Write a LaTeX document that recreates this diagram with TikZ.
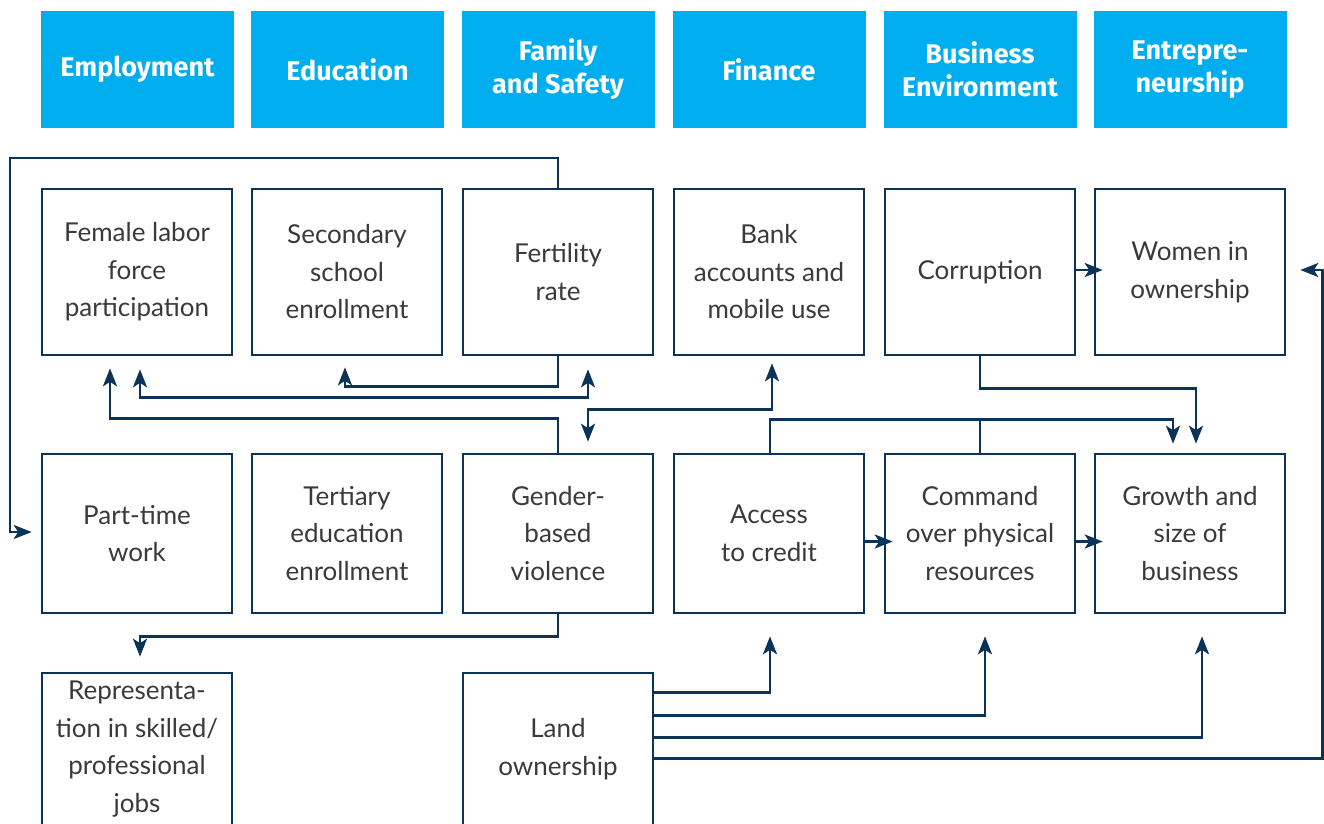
\documentclass[tikz,border=0pt]{standalone}
\usepackage{fontspec}
\setmainfont{Lato}
\newfontfamily\headfont{Fira Sans}
\usetikzlibrary{arrows.meta,calc}
\definecolor{navy}{HTML}{0B3357}
\definecolor{cyanh}{HTML}{00ADEE}
\definecolor{txt}{HTML}{3A3A3A}
\begin{document}
\begin{tikzpicture}[x=1pt,y=-1pt,
 hdr/.style={fill=cyanh, minimum width=193pt, minimum height=117pt, inner sep=0pt, text=white,
   font=\headfont\bfseries\fontsize{27}{33}\selectfont, align=center},
 box/.style={draw=navy, line width=2.6pt, fill=white, minimum width=190pt, inner sep=0pt, text=txt,
   font=\fontsize{26}{37.5}\selectfont, align=center},
 r1/.style={box, minimum height=166pt},
 r2/.style={box, minimum height=159pt},
 r3/.style={box, minimum height=152pt},
 conn/.style={draw=navy, line width=2.6pt},
 tip/.tip={Stealth[length=18pt,width=14pt,inset=4.5pt]},
 arr/.style={conn, -tip},
 arrb/.style={conn, tip-tip}]
\useasboundingbox (0,0) rectangle (1324,823);
\clip (0,0) rectangle (1324,823);
% headers
\node[hdr] (h1) at (137.5,69.5) {Employment};
\node[hdr] (h2) at (347.5,69.5) {Education};
\node[hdr] (h3) at (558,69.5) {Family\\and Safety};
\node[hdr] (h4) at (769,69.5) {Finance};
\node[hdr] (h5) at (980,69.5) {Business\\Environment};
\node[hdr] (h6) at (1190,69.5) {Entrepre-\\neurship};
% row 1
\node[r1] (flf) at (137,272) {Female labor\\force\\participation};
\node[r1] (sec) at (347,272) {Secondary\\school\\enrollment};
\node[r1] (fert) at (558,272) {Fertility\\rate};
\node[r1] (bank) at (769,272) {Bank\\accounts and\\mobile use};
\node[r1] (corr) at (980,272) {Corruption};
\node[r1] (wio) at (1190,272) {Women in\\ownership};
% row 2
\node[r2] (pt) at (137,533.5) {Part-time\\work};
\node[r2] (ter) at (347,533.5) {Tertiary\\education\\enrollment};
\node[r2] (gbv) at (558,533.5) {Gender-\\based\\violence};
\node[r2] (acc) at (769,533.5) {Access\\to credit};
\node[r2] (cmd) at (980,533.5) {Command\\over physical\\resources};
\node[r2] (grow) at (1190,533.5) {Growth and\\size of\\business};
% row 3
\node[r3] (rep) at (137,749) {Representa-\\tion in skilled/\\professional\\jobs};
\node[r3] (land) at (558,749) {Land\\ownership};
% connectors
\draw[arr, shorten >=9pt] (fert.north) |- (10,158) |- ($(pt.west)+(0,-1.5)$);
\draw[arr, shorten >=11pt] (fert.south) -- ++(0,30) -| ($(sec.south)+(-2,0)$);
\draw[arrb, shorten <=13pt, shorten >=13pt] ($(flf.south)+(3,0)$) -- ++(0,41) -| ($(fert.south)+(30,0)$);
\draw[arr, shorten >=12pt] (gbv.north) -- ++(0,-34) -| ($(flf.south)+(-27,0)$);
\draw[arrb, shorten <=7pt, shorten >=11pt] ($(bank.south)+(3,0)$) -- ++(0,53) -| ($(gbv.north)+(30,0)$);
\draw[arr, shorten >=9pt] (corr.south) -- ++(0,32) -| ($(grow.north)+(6,0)$);
\draw[arr, shorten >=9pt] ($(acc.north)+(1,0)$) -- ++(0,-33) -| ($(grow.north)+(-17,0)$);
\draw[conn] (cmd.north) -- ++(0,-33);
\draw[arr, shorten >=-9pt] ($(corr.east)+(0,-2)$) -- ($(wio.west)+(0,-2)$);
\draw[arr, shorten >=-9pt] ($(acc.east)+(0,8)$) -- ($(cmd.west)+(0,8)$);
\draw[arr, shorten >=-9pt] ($(cmd.east)+(0,8)$) -- ($(grow.west)+(0,8)$);
\draw[arr, shorten >=15pt] (gbv.south) -- ++(0,22) -| ($(rep.north)+(3,0)$);
\draw[arr, shorten >=22pt] ($(land.north east)+(0,21)$) -| ($(acc.south)+(1,0)$);
\draw[arr, shorten >=22pt] ($(land.north east)+(0,44)$) -| ($(cmd.south)+(5,0)$);
\draw[arr, shorten >=22pt] ($(land.north east)+(0,66)$) -| ($(grow.south)+(12,0)$);
\draw[arr, shorten >=14pt] ($(land.north east)+(0,87)$) -| (1322.5,400) |- ($(wio.east)+(0,-2)$);
\end{tikzpicture}
\end{document}
